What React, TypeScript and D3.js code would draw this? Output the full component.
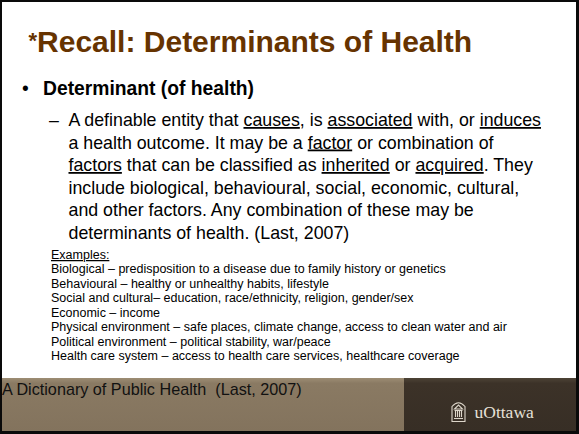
import React from "react";
import * as d3 from "d3";

const W = 579;
const H = 434;

const titleMark = "*";
const titleText = "Recall: Determinants of Health";
const bulletText = "Determinant (of health)";

// each body line: segments [text, underlined]
const bodyLines: [string, boolean][][] = [
  [["A definable entity that ", false], ["causes", true], [", is ", false], ["associated", true], [" with, or ", false], ["induces", true]],
  [["a health outcome. It may be a ", false], ["factor", true], [" or combination of", false]],
  [["factors", true], [" that can be classified as ", false], ["inherited", true], [" or ", false], ["acquired", true], [". They", false]],
  [["include biological, behavioural, social, economic, cultural,", false]],
  [["and other factors. Any combination of these may be", false]],
  [["determinants of health. (Last, 2007)", false]],
];

const examplesHeader = "Examples:";
const examples = [
  "Biological – predisposition to a disease due to family history or genetics",
  "Behavioural – healthy or unhealthy habits, lifestyle",
  "Social and cultural– education, race/ethnicity, religion, gender/sex",
  "Economic – income",
  "Physical environment – safe places, climate change, access to clean water and air",
  "Political environment – political stability, war/peace",
  "Health care system – access to health care services, healthcare coverage",
];

const footerText = "A Dictionary of Public Health  (Last, 2007)";
const logoText = "uOttawa";

const SANS = "Arial, 'Liberation Sans', Helvetica, sans-serif";
const SERIF = "'Times New Roman', 'Liberation Serif', 'DejaVu Serif', serif";

export default function App() {
  const bodyY = d3.scaleLinear().domain([0, bodyLines.length - 1]).range([126, 238.5]);
  const exY = d3.scaleLinear().domain([0, examples.length]).range([259, 360]);

  const footerTop = 378;
  const footerBottom = 431;
  const splitX = 404;

  return (
    <svg
      width={W}
      height={H}
      style={{ position: "absolute", left: 0, top: 0, display: "block" }}
      xmlns="http://www.w3.org/2000/svg"
    >
      <defs>
        <linearGradient id="fL" x1="0" y1="0" x2="0" y2="1">
          <stop offset="0" stopColor="#9d8d74" />
          <stop offset="0.1" stopColor="#8a7a63" />
          <stop offset="1" stopColor="#83735d" />
        </linearGradient>
        <linearGradient id="fR" x1="0" y1="0" x2="0" y2="1">
          <stop offset="0" stopColor="#4d4336" />
          <stop offset="0.1" stopColor="#3c3228" />
          <stop offset="1" stopColor="#372e25" />
        </linearGradient>
      </defs>
      <rect x={0} y={0} width={W} height={H} fill="#0a0a0a" />
      <rect x={2} y={2} width={574} height={footerBottom - 2} fill="#ffffff" />

      {/* title */}
      <text x={28.5} y={52} fontFamily={SANS} fill="#663300">
        <tspan fontSize={22} fontWeight="bold" dy={-4}>{titleMark}</tspan>
        <tspan fontSize={30} fontWeight="bold" dy={4}>{titleText}</tspan>
      </text>

      {/* bullet */}
      <text x={22} y={95} fontFamily={SANS} fontSize={19.3} fill="#000">•</text>
      <text x={43} y={95} fontFamily={SANS} fontSize={19.3} fontWeight="bold" fill="#000">
        {bulletText}
      </text>

      {/* body */}
      <text x={49} y={bodyY(0)} fontFamily={SANS} fontSize={17.8} fill="#000">–</text>
      {bodyLines.map((segs, i) => (
        <text key={i} x={68.5} y={bodyY(i)} fontFamily={SANS} fontSize={17.8} fill="#000">
          {segs.map(([t, u], j) => (
            <tspan key={j} textDecoration={u ? "underline" : undefined} style={{ whiteSpace: "pre" }}>
              {t}
            </tspan>
          ))}
        </text>
      ))}

      {/* examples */}
      <text x={51} y={exY(0)} fontFamily={SANS} fontSize={12.5} fill="#000" textDecoration="underline">
        {examplesHeader}
      </text>
      {examples.map((e, i) => (
        <text key={i} x={51} y={exY(i + 1)} fontFamily={SANS} fontSize={12.5} fill="#000">
          {e}
        </text>
      ))}

      {/* footer */}
      <rect x={2} y={footerTop} width={splitX - 2} height={footerBottom - footerTop} fill="url(#fL)" />
      <rect x={splitX} y={footerTop} width={576 - splitX} height={footerBottom - footerTop} fill="url(#fR)" />
      <text x={2} y={395} fontFamily={SANS} fontSize={16.2} fill="#111">
        <tspan style={{ whiteSpace: "pre" }}>{footerText}</tspan>
      </text>

      {/* logo */}
      <g stroke="#ddd6ca" fill="none" strokeWidth={1.1}>
        <path d="M452,421.5 L452,406.5 Q458.5,399 465,406.5 L465,421.5 Z" />
        <path d="M454.5,409 L458.5,405 L462.5,409 Z" />
        <line x1={454.5} y1={410.5} x2={462.5} y2={410.5} />
        <line x1={455.5} y1={411} x2={455.5} y2={417} />
        <line x1={457.5} y1={411} x2={457.5} y2={417} />
        <line x1={459.5} y1={411} x2={459.5} y2={417} />
        <line x1={461.5} y1={411} x2={461.5} y2={417} />
        <line x1={454} y1={418.5} x2={463} y2={418.5} />
      </g>
      <text x={474.5} y={417.5} fontFamily={SERIF} fontSize={17.5} fill="#e6e1d8">
        {logoText}
      </text>
    </svg>
  );
}
